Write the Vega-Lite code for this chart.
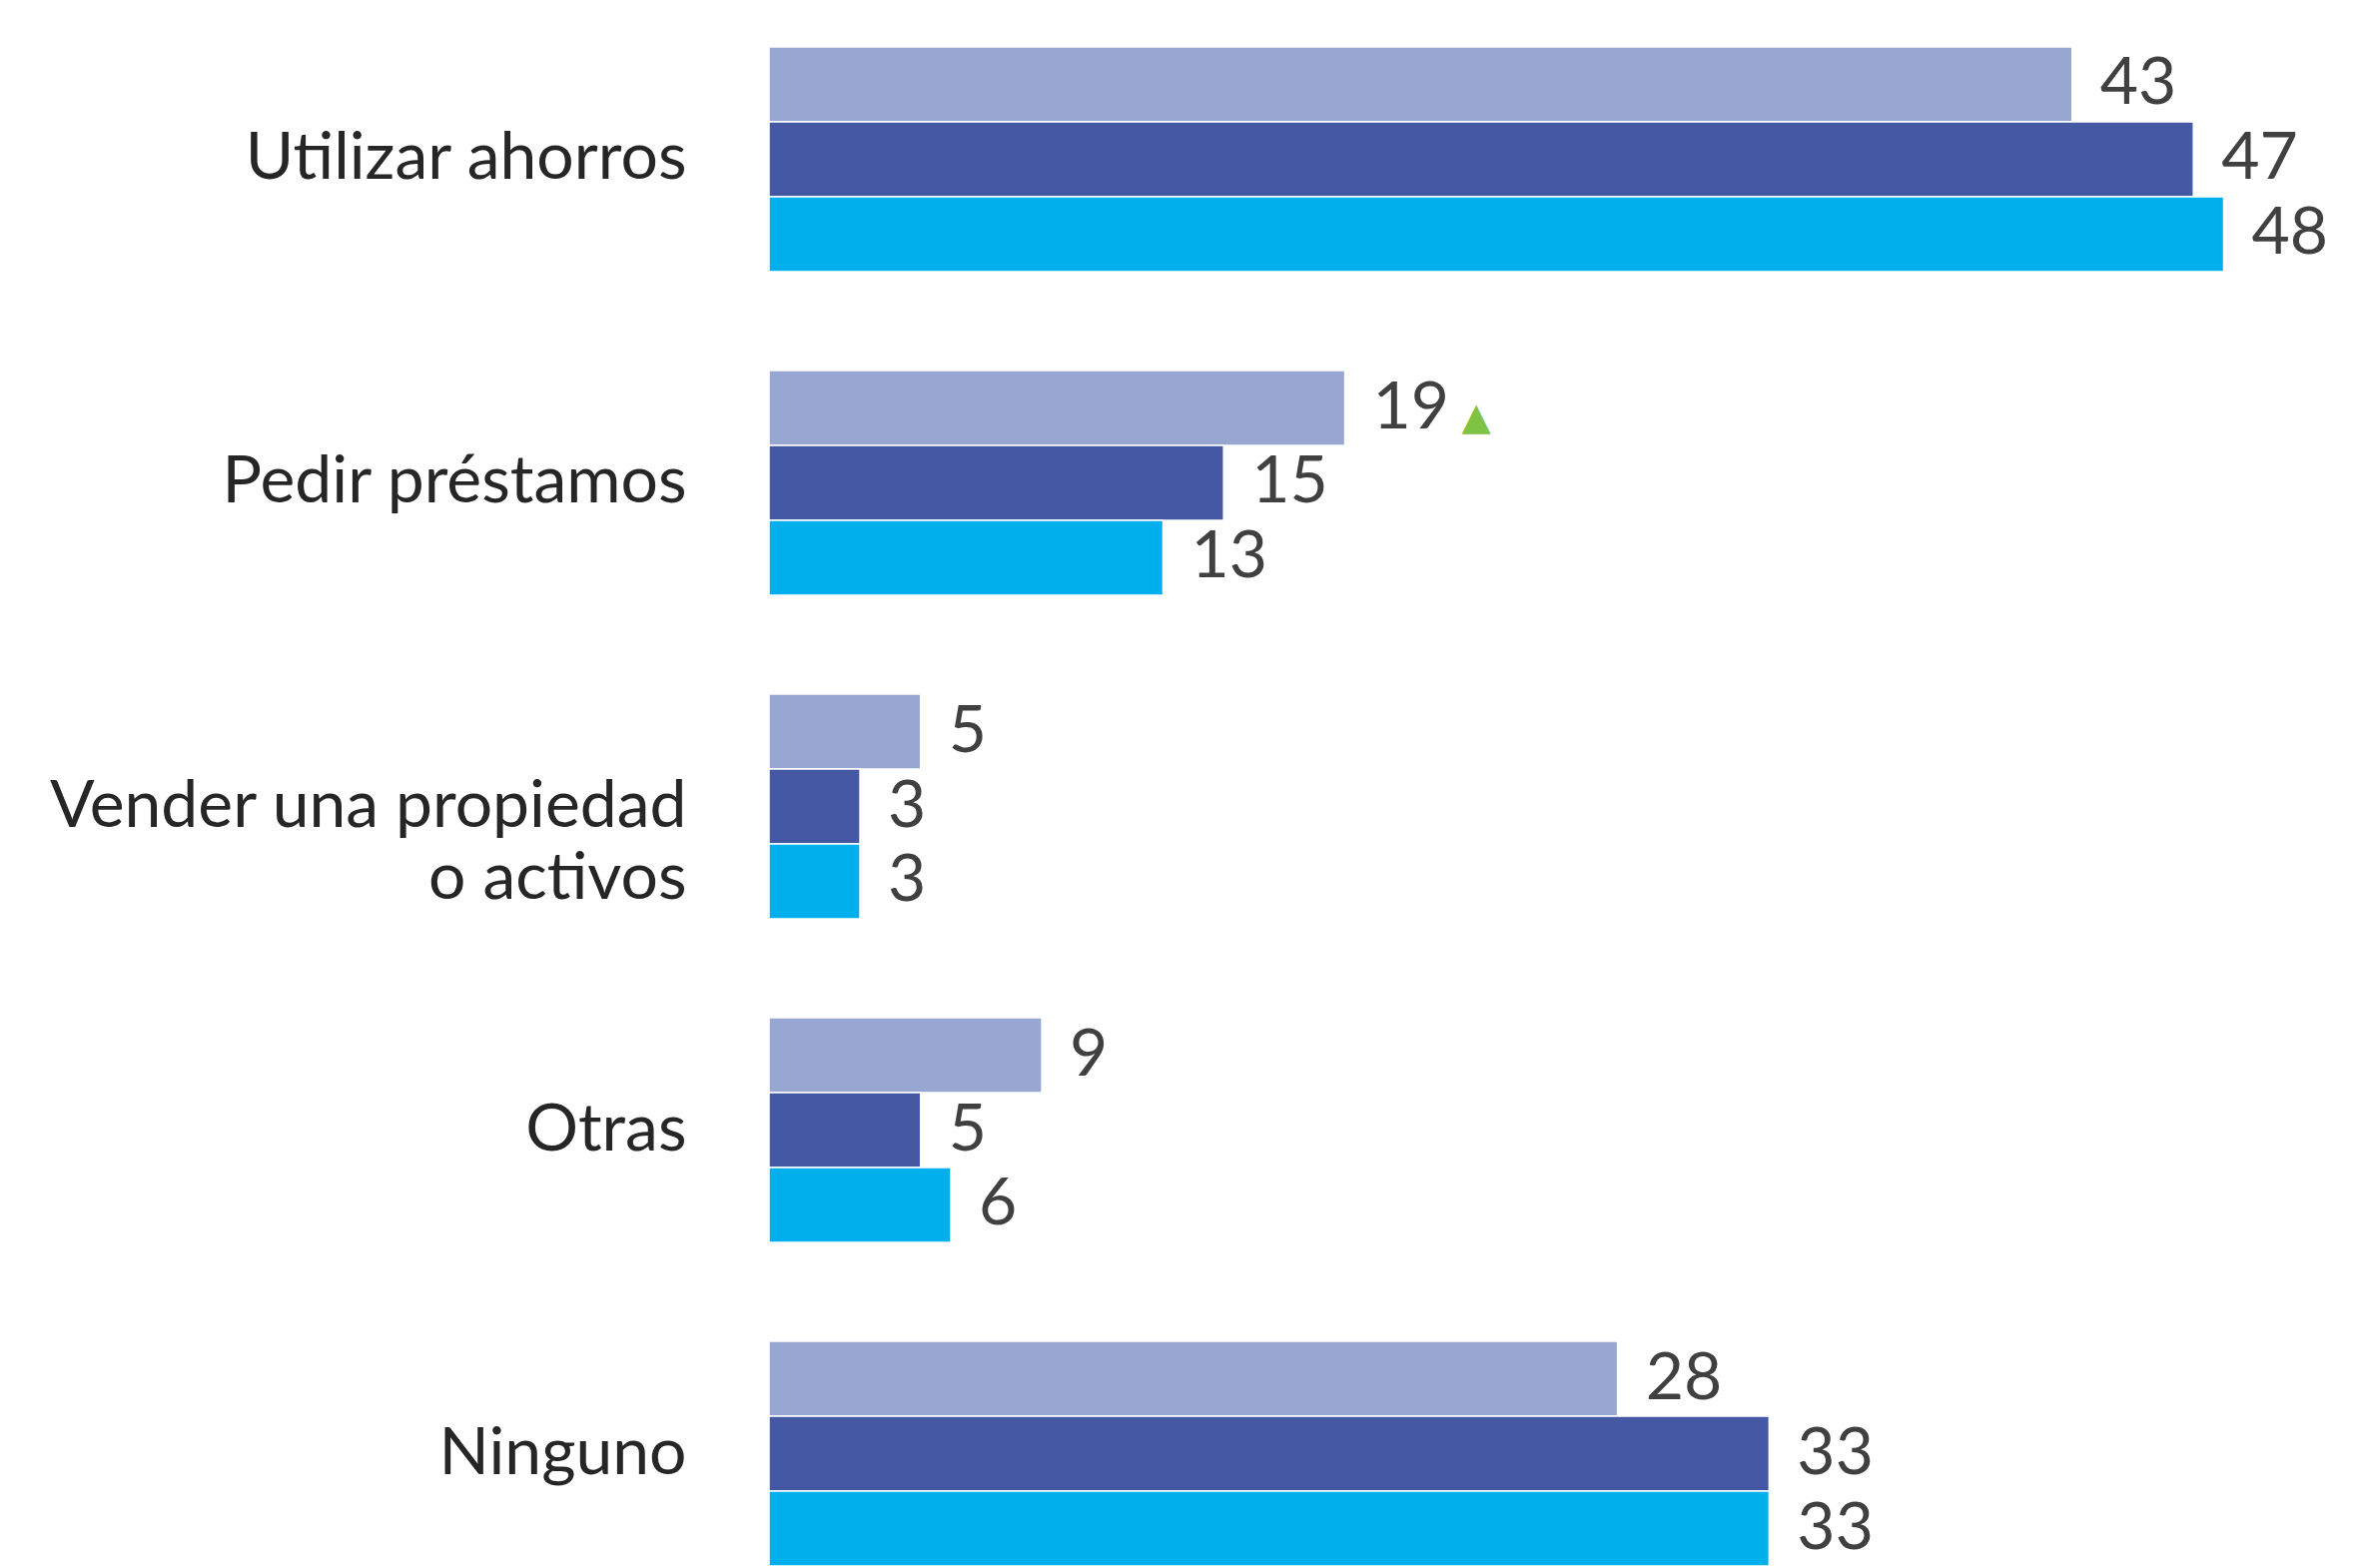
{
  "$schema": "https://vega.github.io/schema/vega-lite/v6.json",
  "autosize": {"type": "none"},
  "padding": {"left": 770, "top": 47, "right": 0, "bottom": 0},
  "width": 1587,
  "height": 1521,
  "background": "white",
  "config": {"view": {"stroke": null}},
  "data": {
    "values": [
      {"categoria": "Utilizar ahorros", "serie": "Serie 1", "valor": 43, "alza": false},
      {"categoria": "Utilizar ahorros", "serie": "Serie 2", "valor": 47, "alza": false},
      {"categoria": "Utilizar ahorros", "serie": "Serie 3", "valor": 48, "alza": false},
      {"categoria": "Pedir préstamos", "serie": "Serie 1", "valor": 19, "alza": true},
      {"categoria": "Pedir préstamos", "serie": "Serie 2", "valor": 15, "alza": false},
      {"categoria": "Pedir préstamos", "serie": "Serie 3", "valor": 13, "alza": false},
      {"categoria": "Vender una propiedad o activos", "serie": "Serie 1", "valor": 5, "alza": false},
      {"categoria": "Vender una propiedad o activos", "serie": "Serie 2", "valor": 3, "alza": false},
      {"categoria": "Vender una propiedad o activos", "serie": "Serie 3", "valor": 3, "alza": false},
      {"categoria": "Otras", "serie": "Serie 1", "valor": 9, "alza": false},
      {"categoria": "Otras", "serie": "Serie 2", "valor": 5, "alza": false},
      {"categoria": "Otras", "serie": "Serie 3", "valor": 6, "alza": false},
      {"categoria": "Ninguno", "serie": "Serie 1", "valor": 28, "alza": false},
      {"categoria": "Ninguno", "serie": "Serie 2", "valor": 33, "alza": false},
      {"categoria": "Ninguno", "serie": "Serie 3", "valor": 33, "alza": false}
    ]
  },
  "encoding": {
    "y": {
      "field": "categoria",
      "type": "nominal",
      "sort": ["Utilizar ahorros", "Pedir préstamos", "Vender una propiedad o activos", "Otras", "Ninguno"],
      "scale": {"paddingInner": 0.306, "paddingOuter": 0},
      "title": null,
      "axis": {
        "domain": false,
        "ticks": false,
        "grid": false,
        "labelFont": "Lato",
        "labelFontSize": 66,
        "labelColor": "#262626",
        "labelPadding": 83,
        "labelLimit": 0,
        "labelLineHeight": 72,
        "labelBaseline": "middle",
        "labelExpr": "datum.label == 'Vender una propiedad o activos' ? ['Vender una propiedad', 'o activos'] : datum.label"
      }
    },
    "yOffset": {
      "field": "serie",
      "type": "nominal",
      "sort": ["Serie 1", "Serie 2", "Serie 3"],
      "scale": {"paddingInner": 0, "paddingOuter": 0}
    },
    "x": {
      "field": "valor",
      "type": "quantitative",
      "scale": {"domain": [0, 52.3], "nice": false, "zero": true},
      "axis": null
    }
  },
  "layer": [
    {
      "mark": {"type": "bar", "stroke": "white", "strokeWidth": 1.5},
      "encoding": {
        "color": {
          "field": "serie",
          "type": "nominal",
          "scale": {"domain": ["Serie 1", "Serie 2", "Serie 3"], "range": ["#98A7D1", "#4458A3", "#00B0EC"]},
          "legend": null
        }
      }
    },
    {
      "mark": {"type": "text", "align": "left", "baseline": "middle", "dx": 28, "font": "Lato", "fontSize": 66, "color": "#404040"},
      "encoding": {"text": {"field": "valor", "type": "quantitative"}}
    },
    {
      "transform": [{"filter": "datum.alza"}],
      "mark": {"type": "text", "text": "▲", "align": "left", "baseline": "middle", "dx": 117, "dy": 10, "font": "DejaVu Sans", "fontSize": 38, "color": "#80C342"}
    }
  ]
}
